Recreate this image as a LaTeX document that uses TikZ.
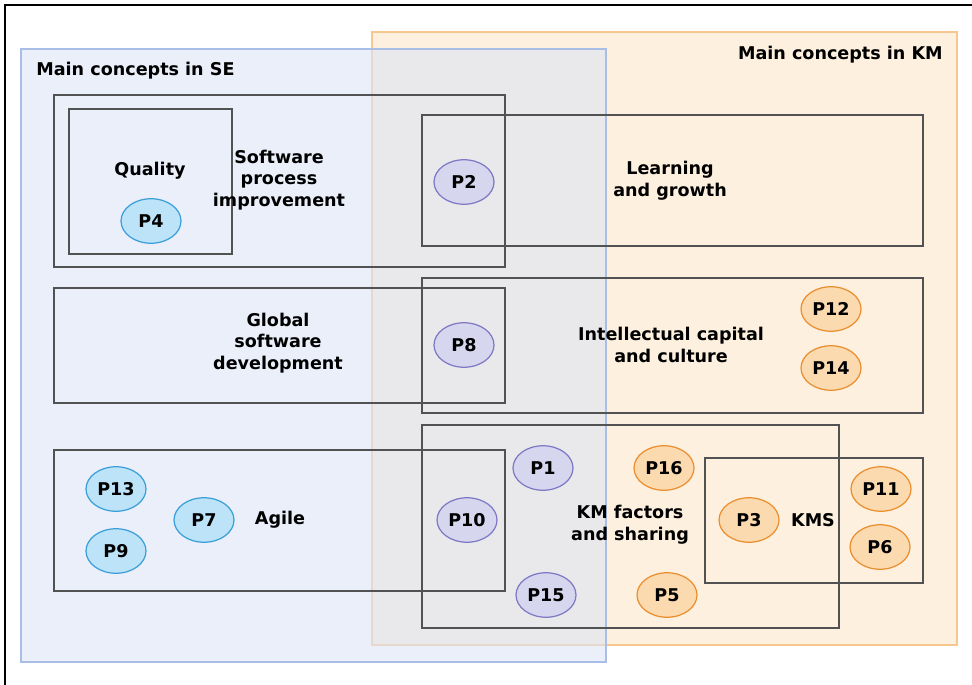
\documentclass[tikz,border=0pt]{standalone}
\usepackage{fontspec}
\setmainfont{DejaVu Sans}
\usepackage{tikz}
\usetikzlibrary{shapes.geometric}

\definecolor{seblue}{HTML}{DCE5F7}
\definecolor{seline}{HTML}{A9BEE6}
\definecolor{kmorange}{HTML}{FDF0DE}
\definecolor{kmline}{HTML}{F6C890}
\definecolor{bluefill}{HTML}{BDE3F8}
\definecolor{blueline}{HTML}{3A9FD8}
\definecolor{purplefill}{HTML}{D6D6EE}
\definecolor{purpleline}{HTML}{7F78C4}
\definecolor{orangefill}{HTML}{FCDAB0}
\definecolor{orangeline}{HTML}{EA8E2E}

\tikzset{
  box/.style={draw=black!68, line width=0.6pt},
  lbl/.style={align=center, inner sep=0pt},
  paper/.style={ellipse, draw, line width=0.7pt, inner sep=0pt,
    minimum width=1.2cm, minimum height=0.89cm},
  se/.style={paper, fill=bluefill, draw=blueline},
  both/.style={paper, fill=purplefill, draw=purpleline},
  km/.style={paper, fill=orangefill, draw=orangeline}
}

\begin{document}
\begin{tikzpicture}[x=0.02cm, y=-0.02cm, font=\fontsize{10}{12.3}\selectfont\bfseries]
\useasboundingbox (0,0) rectangle (972,685);
\fill[white] (0,0) rectangle (972,685);
\draw[line width=1.2pt] (5,685) -- (5,5) -- (972,5);

% the two domains, overlapping in the middle
\draw[kmline, fill=kmorange, line width=0.8pt] (372,32) rectangle (957,645);
\draw[seline, fill=seblue, fill opacity=0.58, line width=0.8pt] (21,49) rectangle (606,662);
\node[lbl, anchor=west] (se) at (36,71) {Main concepts in SE};
\node[lbl, anchor=east] (km) at (943,55) {Main concepts in KM};

% topic boxes
\draw[box] (54,95) rectangle (505,267);
\draw[box] (69,109) rectangle (232,254);
\draw[box] (422,115) rectangle (923,246);
\draw[box] (54,288) rectangle (505,403);
\draw[box] (422,278) rectangle (923,413);
\draw[box] (54,450) rectangle (505,591);
\draw[box] (422,425) rectangle (839,628);
\draw[box] (705,458) rectangle (923,583);

\node[lbl] (quality) at (150,171) {Quality};
\node[lbl] (spi) at (279,180) {Software\\process\\improvement};
\node[lbl] (learning) at (670,181) {Learning\\and growth};
\node[lbl] (gsd) at (278,343) {Global\\software\\development};
\node[lbl] (capital) at (671,345) {Intellectual capital\\and culture};
\node[lbl] (agile) at (280,520) {Agile};
\node[lbl] (factors) at (630,525) {KM factors\\and sharing};
\node[lbl] (kms) at (813,520) {KMS};

% papers
\node[se] (p4) at (151,221) {P4};
\node[se] (p13) at (116,489) {P13};
\node[se] (p9) at (116,551) {P9};
\node[se] (p7) at (204,520) {P7};

\node[both] (p2) at (464,182) {P2};
\node[both] (p8) at (464,345) {P8};
\node[both] (p10) at (467,520) {P10};
\node[both] (p1) at (543,468) {P1};
\node[both] (p15) at (546,595) {P15};

\node[km] (p12) at (831,309) {P12};
\node[km] (p14) at (831,368) {P14};
\node[km] (p16) at (664,468) {P16};
\node[km] (p5) at (667,595) {P5};
\node[km] (p3) at (749,520) {P3};
\node[km] (p11) at (881,489) {P11};
\node[km] (p6) at (880,547) {P6};
\end{tikzpicture}
\end{document}
